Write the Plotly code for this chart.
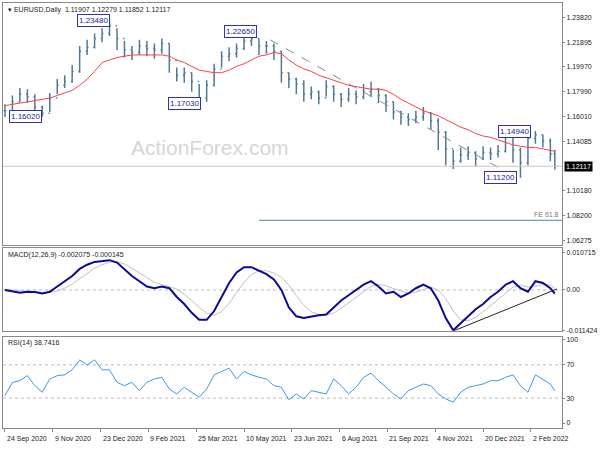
import plotly.graph_objects as go

days = [5*i for i in range(74)] + [368]
closes = [1.165,1.172,1.178,1.176,1.168,1.163,1.175,1.185,1.188,1.196,
          1.212,1.215,1.222,1.226,1.232,1.222,1.213,1.211,1.216,1.214,
          1.213,1.218,1.205,1.193,1.195,1.188,1.175,1.185,1.198,1.208,
          1.210,1.214,1.220,1.222,1.216,1.216,1.212,1.195,1.190,1.186,
          1.178,1.180,1.175,1.184,1.178,1.174,1.178,1.176,1.180,1.182,
          1.177,1.172,1.164,1.160,1.158,1.160,1.163,1.157,1.148,1.135,
          1.125,1.130,1.132,1.127,1.132,1.131,1.133,1.145,1.134,1.124,
          1.143,1.146,1.141,1.131,1.121]
highs = [1.170,1.177,1.183,1.182,1.178,1.169,1.179,1.190,1.193,1.201,
         1.216,1.221,1.226,1.230,1.2348,1.230,1.220,1.216,1.221,1.220,
         1.218,1.222,1.218,1.199,1.199,1.195,1.186,1.189,1.202,1.212,
         1.215,1.218,1.224,1.2265,1.222,1.220,1.218,1.212,1.195,1.191,
         1.189,1.184,1.181,1.189,1.185,1.179,1.183,1.181,1.186,1.188,
         1.183,1.178,1.172,1.165,1.163,1.165,1.168,1.164,1.159,1.149,
         1.134,1.136,1.137,1.133,1.137,1.136,1.138,1.1494,1.146,1.136,
         1.1494,1.149,1.146,1.143,1.134]
lows = [1.160,1.1602,1.172,1.171,1.162,1.1602,1.164,1.178,1.183,1.187,
        1.195,1.209,1.214,1.219,1.224,1.213,1.207,1.205,1.209,1.208,
        1.206,1.210,1.195,1.188,1.187,1.180,1.1703,1.172,1.184,1.199,
        1.204,1.207,1.213,1.216,1.209,1.210,1.205,1.187,1.183,1.178,
        1.172,1.174,1.170,1.176,1.172,1.168,1.172,1.170,1.174,1.176,
        1.171,1.164,1.158,1.154,1.153,1.155,1.157,1.150,1.134,1.122,
        1.119,1.124,1.126,1.121,1.126,1.126,1.128,1.132,1.124,1.112,
        1.122,1.139,1.136,1.125,1.1185]
ma50 = [1.169,1.170,1.171,1.172,1.173,1.1737,1.175,1.177,1.179,1.181,
        1.185,1.190,1.196,1.203,1.205,1.207,1.208,1.209,1.209,1.209,
        1.209,1.209,1.208,1.205,1.203,1.200,1.197,1.196,1.195,1.195,
        1.197,1.200,1.202,1.205,1.208,1.209,1.211,1.210,1.205,1.201,
        1.198,1.196,1.193,1.191,1.189,1.187,1.185,1.184,1.183,1.182,
        1.182,1.181,1.178,1.174,1.171,1.168,1.165,1.163,1.161,1.158,
        1.155,1.152,1.150,1.147,1.145,1.144,1.142,1.140,1.138,1.137,
        1.136,1.136,1.135,1.134,1.133]
macd_e4 = [0,-5,-8,-5,-6,-10,-5,10,25,40,60,72,80,82,85,78,60,40,25,10,
           5,10,5,-20,-40,-65,-85,-85,-60,-20,20,50,65,65,55,45,30,0,-50,-75,
           -80,-75,-72,-70,-50,-30,-15,0,15,25,10,-10,-5,-20,-10,5,15,5,-30,-80,
           -115,-95,-75,-55,-40,-20,-5,15,25,5,-5,25,20,5,-10]
signal_e4 = [2,0,-4,-6,-6,-7,-7,-3,5,17,32,48,62,72,79,80,74,62,48,34,
             22,15,10,2,-12,-30,-50,-66,-72,-62,-38,-8,22,44,55,55,48,36,14,-16,
             -44,-62,-70,-72,-66,-52,-36,-20,-4,10,16,12,4,-4,-10,-6,2,8,0,-24,
             -60,-85,-88,-78,-62,-45,-28,-10,8,14,8,10,16,14,4]
rsi = [33,49,51,57,45,37,53,57,58,64,76,70,76,64,64,49,45,49,39,49,
       53,55,41,35,43,37,31,41,58,62,66,53,62,58,55,53,45,43,28,35,
       29,39,37,35,53,45,35,43,55,60,51,43,35,29,39,43,47,45,35,29,
       25,37,43,45,47,51,51,55,58,45,37,58,53,47,38.7]
xtick_days = [0,32,64,96,128,160,192,224,256,288,320,352]
xtick_labels = ["24 Sep 2020","9 Nov 2020","23 Dec 2020","9 Feb 2021","25 Mar 2021",
                "10 May 2021","23 Jun 2021","6 Aug 2021","21 Sep 2021","4 Nov 2021",
                "20 Dec 2021","2 Feb 2022"]
price_ticks = [1.23820,1.21895,1.19970,1.17990,1.16010,1.14085,1.10180,1.08200,1.06275]
price_tick_text = ["1.23820","1.21895","1.19970","1.17990","1.16010","1.14085",
                   "1.10180","1.08200","1.06275"]
last_price = 1.12117
fe_level = 1.0785
peak_labels = [("1.16020",3,1.1602,"left"),("1.23480",70,1.2358,"right"),
               ("1.17030",131,1.1705,"right"),("1.22650",169,1.2272,"right"),
               ("1.14940",352,1.1485,"right"),("1.11200",343,1.1123,"right")]
trend_price = ([177.5,341],[1.2209,1.1131])
trend_macd = ([300,369.5],[-0.0117,0.0003])

opens = [closes[0]] + closes[:-1]
macd = [v*1e-4 for v in macd_e4]
signal = [v*1e-4 for v in signal_e4]

FONT = "Liberation Sans"
fig = go.Figure()
fig.add_trace(go.Ohlc(x=days, open=opens, high=highs, low=lows, close=closes,
                      increasing_line_color="#4f7a96", decreasing_line_color="#4f7a96",
                      line_width=1.5, xaxis="x", yaxis="y"))
fig.add_trace(go.Scatter(x=days, y=ma50, mode="lines", line=dict(color="#ff4040", width=1),
                         xaxis="x", yaxis="y"))
fig.add_trace(go.Scatter(x=trend_price[0], y=trend_price[1], mode="lines",
                         line=dict(color="#888888", width=1, dash="dash"), xaxis="x", yaxis="y"))
fig.add_trace(go.Scatter(x=[-5, 380], y=[last_price]*2, mode="lines",
                         line=dict(color="#c8c8c8", width=1), xaxis="x", yaxis="y"))
fig.add_trace(go.Scatter(x=[170, 380], y=[fe_level]*2, mode="lines",
                         line=dict(color="#5f7f8f", width=1), xaxis="x", yaxis="y"))
fig.add_trace(go.Scatter(x=days, y=signal, mode="lines", line=dict(color="#c0c0c0", width=1),
                         xaxis="x2", yaxis="y2"))
fig.add_trace(go.Scatter(x=days, y=macd, mode="lines", line=dict(color="#0a0a96", width=2),
                         xaxis="x2", yaxis="y2"))
fig.add_trace(go.Scatter(x=trend_macd[0], y=trend_macd[1], mode="lines",
                         line=dict(color="#222222", width=1), xaxis="x2", yaxis="y2"))
fig.add_trace(go.Scatter(x=days, y=rsi, mode="lines", line=dict(color="#3a9af0", width=1),
                         xaxis="x3", yaxis="y3"))

xr = [-1.3, 372.8]
axbase = dict(showline=True, linecolor="#888888", mirror=True, showgrid=False, zeroline=False,
              ticks="", tickfont=dict(family=FONT, size=7, color="#222"))
fig.update_layout(
    width=600, height=450, margin=dict(l=2, r=36, t=2, b=22),
    paper_bgcolor="white", plot_bgcolor="white", showlegend=False,
    font=dict(family=FONT, size=7, color="#222"),
    xaxis=dict(axbase, domain=[0, 1], range=xr, showticklabels=False, anchor="y",
               rangeslider=dict(visible=False)),
    xaxis2=dict(axbase, domain=[0, 1], range=xr, showticklabels=False, anchor="y2"),
    xaxis3=dict(axbase, domain=[0, 1], range=xr, anchor="y3", tickvals=xtick_days,
                showticklabels=False, ticks="outside", ticklen=3, tickcolor="#888"),
    yaxis=dict(axbase, domain=[0.43, 1], range=[1.0588, 1.2500], side="right",
               tickvals=price_ticks, ticktext=price_tick_text,
               ticks="outside", ticklen=2, tickcolor="#888"),
    yaxis2=dict(axbase, domain=[0.229, 0.423], range=[-0.0116, 0.0119], side="right",
                tickvals=[0.010715, 0, -0.011424], ticktext=["0.010715", "0.00", "-0.011424"],
                ticks="outside", ticklen=2, tickcolor="#888"),
    yaxis3=dict(axbase, domain=[0, 0.215], range=[-6, 104], side="right",
                tickvals=[100, 70, 30, 0], ticktext=["100", "70", "30", "0"],
                ticks="outside", ticklen=2, tickcolor="#888"),
)
for yv, ax in [(0, "y2"), (70, "y3"), (30, "y3")]:
    fig.add_shape(type="line", xref="x2" if ax == "y2" else "x3", yref=ax, x0=xr[0], x1=xr[1],
                  y0=yv, y1=yv, line=dict(color="#bbbbbb", width=1, dash="dot"), layer="below")

ann = []
for txt, d, p, side in peak_labels:
    ann.append(dict(x=d, y=p, xref="x", yref="y", text=txt, showarrow=False, xanchor=side,
                    font=dict(family=FONT, size=8, color="#1a1aa0"), bgcolor="white",
                    bordercolor="#3030b0", borderwidth=1, borderpad=1))
for d, lab in zip(xtick_days, xtick_labels):
    ann.append(dict(x=d, y=-0.012, xref="x3", yref="paper", text=lab, showarrow=False,
                    xanchor="left", yanchor="top", font=dict(family=FONT, size=7, color="#222")))
ann += [
    dict(x=0.005, y=0.998, xref="paper", yref="paper", text="▾ EURUSD,Daily  1.11907 1.12279 1.11852 1.12117",
         showarrow=False, xanchor="left", yanchor="top", font=dict(family=FONT, size=7, color="#222")),
    dict(x=0.37, y=0.66, xref="paper", yref="paper", text="ActionForex.com", showarrow=False,
         font=dict(family=FONT, size=21, color="#d6d6d6")),
    dict(x=1.003, y=last_price, xref="paper", yref="y", text="1.12117", showarrow=False,
         xanchor="left", bgcolor="black", font=dict(family=FONT, size=7, color="white"), borderpad=1),
    dict(x=372, y=fe_level, xref="x", yref="y", text="FE 61.8", showarrow=False, xanchor="right",
         yanchor="bottom", font=dict(family=FONT, size=7, color="#777")),
    dict(x=0.005, y=0.421, xref="paper", yref="paper", text="MACD(12,26,9) -0.002075 -0.000145",
         showarrow=False, xanchor="left", yanchor="top", font=dict(family=FONT, size=7, color="#222")),
    dict(x=0.005, y=0.213, xref="paper", yref="paper", text="RSI(14) 38.7416",
         showarrow=False, xanchor="left", yanchor="top", font=dict(family=FONT, size=7, color="#222")),
]
fig.update_layout(annotations=ann)
fig.write_html("out.html", config={"displayModeBar": False},
               post_script="document.body.style.margin='0';document.body.style.overflow='hidden';")
